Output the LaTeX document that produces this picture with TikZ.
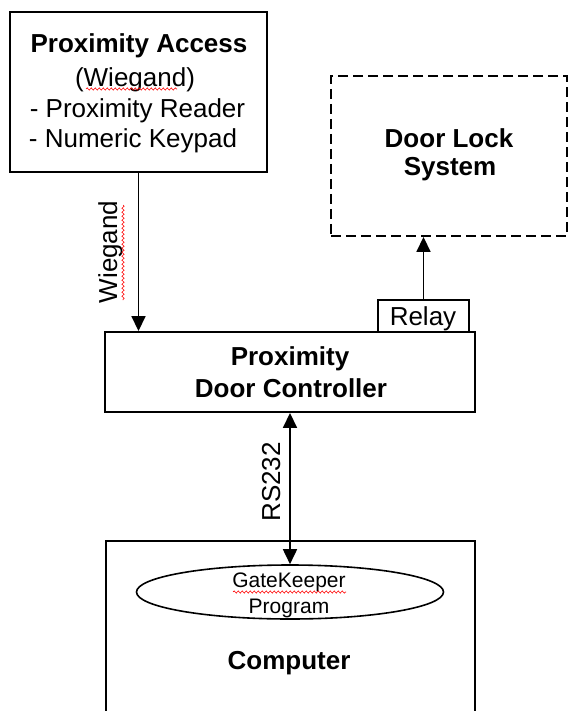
\documentclass[tikz,border=0pt]{standalone}
\usepackage{fontspec}
\setmainfont{Liberation Sans}
\usetikzlibrary{arrows.meta,decorations.pathmorphing,shapes.geometric}

\begin{document}
\begin{tikzpicture}[x=1pt,y=-1pt,
  box/.style={draw, line width=1.9pt, rectangle, inner sep=0pt},
  lbl/.style={font=\fontsize{26}{30}\selectfont, inner sep=0pt, anchor=base},
  bold/.style={lbl, font=\fontsize{26}{30}\selectfont\bfseries},
  small/.style={lbl, font=\fontsize{21}{25}\selectfont},
  arr/.style={line width=1.7pt, -{Triangle[length=15pt,width=14pt]}},
  dblarr/.style={line width=1.7pt, {Triangle[length=15pt,width=14pt]}-{Triangle[length=15pt,width=14pt]}},
  spell/.style={red, line width=0.6pt, decorate,
    decoration={snake, amplitude=1.1pt, segment length=4pt}}]

\useasboundingbox (0,0) rectangle (569,711);
\clip (0,0) rectangle (569,711);

% blocks
\node[box, minimum width=257pt, minimum height=160pt] (pa) at (138.5,92) {};
\node[box, dash pattern=on 10pt off 5pt, minimum width=236pt, minimum height=160pt] (door) at (449,156) {};
\node[box, minimum width=370pt, minimum height=80pt] (ctrl) at (290,372) {};
\node[box, fill=white, minimum width=91pt, minimum height=32pt] (relay) at (423.5,316) {};
\node[box, minimum width=369pt, minimum height=199pt] (comp) at (290.5,640.5) {};
\node[draw, ellipse, line width=1.6pt, inner sep=0pt, minimum width=307pt, minimum height=54pt] (prog) at (290,592) {};

% texts
\node[bold] (t1) at (139,53) {Proximity Access};
\node[lbl]  (t2) at (135,87) {(Wiegand)};
\node[lbl]  (t3) at (137.5,118) {- Proximity Reader};
\node[lbl]  (t4) at (133,148) {- Numeric Keypad};
\node[bold] (d1) at (449,148) {Door Lock};
\node[bold] (d2) at (450,176) {System};
\node[lbl]  (r1) at (423,325) {Relay};
\node[bold] (c1) at (290,365) {Proximity};
\node[bold] (c2) at (291,397) {Door Controller};
\node[small] (g1) at (289,587) {GateKeeper};
\node[small] (g2) at (289,613) {Program};
\node[bold] (k1) at (289,669) {Computer};

% connectors
\draw[arr] (pa.south) -- (pa.south |- ctrl.north);
\draw[arr] (relay.north) -- (relay.north |- door.south);
\draw[dblarr] (ctrl.south) -- (prog.north);

% link labels
\node[lbl, rotate=90] (wl) at (117,252) {Wiegand};
\node[lbl, rotate=90] (rs) at (280,482) {RS232};

% spelling marks
\draw[spell] (86,89) -- (177,89);
\draw[spell] (123,205) -- (123,300);
\draw[spell] (233,592) -- (346,592);
\end{tikzpicture}
\end{document}
